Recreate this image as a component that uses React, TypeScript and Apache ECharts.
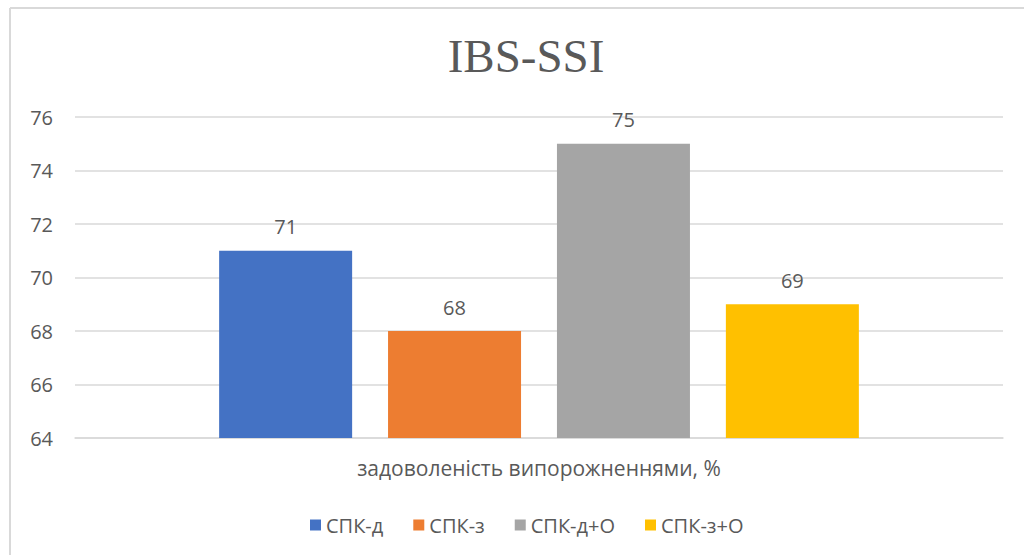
import React, { useEffect, useRef } from "react";
import * as echarts from "echarts";

const categories = ["задоволеність випорожненнями, %"];
const seriesNames = ["СПК-д", "СПК-з", "СПК-д+О", "СПК-з+О"];
const seriesValues = [71, 68, 75, 69];
const seriesColors = ["#4472C4", "#ED7D31", "#A5A5A5", "#FFC000"];
const yTicks = { min: 64, max: 76, interval: 2 };
const titleText = "IBS-SSI";

export default function App() {
  const ref = useRef<HTMLDivElement>(null);
  useEffect(() => {
    document.body.style.margin = "0";
    if (!ref.current) return;
    const chart = echarts.init(ref.current, null, { renderer: "svg" });
    const font = "'Open Sans', 'Noto Sans', sans-serif";
    chart.setOption({
      animation: false,
      backgroundColor: "#ffffff",
      title: {
        text: titleText,
        left: 521,
        top: 27,
        textAlign: "center",
        textStyle: {
          fontFamily: "'Liberation Serif', 'Times New Roman', serif",
          fontSize: 47,
          fontWeight: "normal",
          color: "#595959",
        },
      },
      graphic: [
        { type: "line", shape: { x1: 10, y1: 8, x2: 10, y2: 555 }, style: { stroke: "#d9d9d9", lineWidth: 2 } },
        { type: "line", shape: { x1: 10, y1: 8, x2: 1024, y2: 8 }, style: { stroke: "#d9d9d9", lineWidth: 2 } },
      ],
      legend: {
        data: seriesNames,
        top: 510,
        left: 305,
        itemWidth: 11,
        itemHeight: 11,
        itemGap: 30,
        icon: "rect",
        textStyle: { fontFamily: font, fontSize: 20, color: "#595959" },
      },
      grid: { left: 75, right: 21, top: 117, bottom: 117 },
      xAxis: {
        type: "category",
        data: categories,
        axisLine: { show: true, lineStyle: { color: "#d9d9d9", width: 1.5 } },
        axisTick: { show: false },
        axisLabel: { margin: 19, fontFamily: font, fontSize: 21, color: "#595959" },
      },
      yAxis: {
        type: "value",
        min: yTicks.min,
        max: yTicks.max,
        interval: yTicks.interval,
        axisLine: { show: false },
        axisTick: { show: false },
        splitLine: { lineStyle: { color: "#d9d9d9", width: 1.5 } },
        axisLabel: { margin: 22, fontFamily: font, fontSize: 20, color: "#595959" },
      },
      series: seriesNames.map((name, i) => ({
        name,
        type: "bar",
        data: [seriesValues[i]],
        barWidth: 133,
        barGap: "27%",
        itemStyle: { color: seriesColors[i] },
        label: {
          show: true,
          position: "top",
          distance: 14,
          fontFamily: font,
          fontSize: 20,
          color: "#595959",
        },
      })),
    });
    return () => chart.dispose();
  }, []);
  return <div ref={ref} style={{ width: 1024, height: 555 }} />;
}
